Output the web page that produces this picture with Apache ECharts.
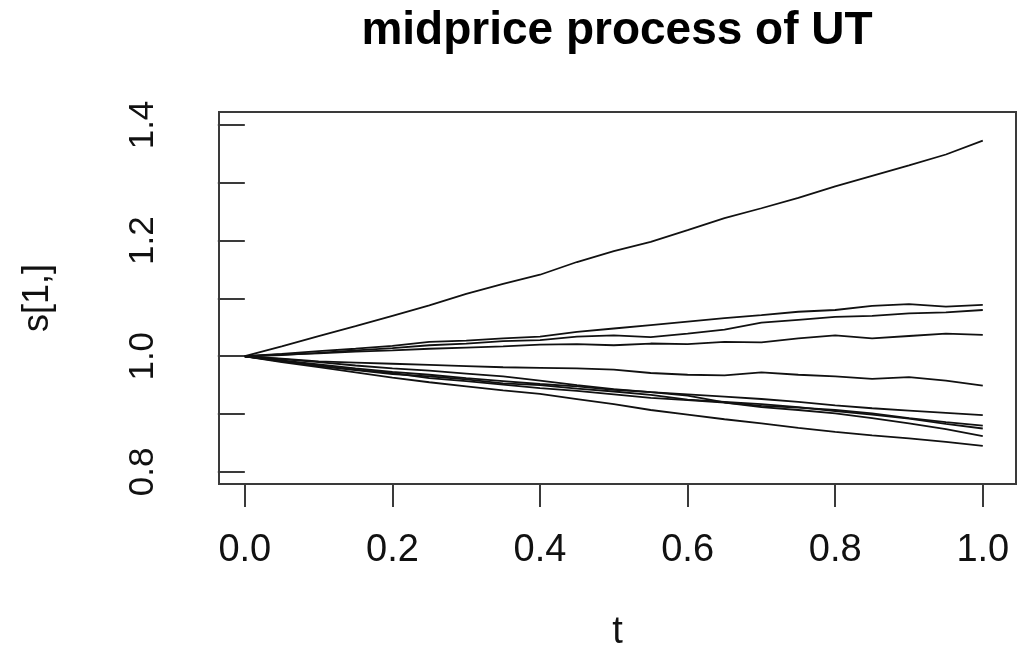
<!DOCTYPE html>
<html>
<head>
<meta charset="utf-8">
<script src="https://cdn.jsdelivr.net/npm/echarts@6/dist/echarts.min.js"></script>
<style>
  html, body { margin: 0; padding: 0; background: #fff; }
  #midprice { width: 1019px; height: 652px; }
</style>
</head>
<body>
<div id="midprice"></div>
<script>
// time grid
var tGrid = [0, 0.05, 0.1, 0.15, 0.2, 0.25, 0.3, 0.35, 0.4, 0.45, 0.5,
             0.55, 0.6, 0.65, 0.7, 0.75, 0.8, 0.85, 0.9, 0.95, 1.0];

// simulated midprice paths
var path1  = [1.000, 1.017, 1.035, 1.052, 1.070, 1.088, 1.108, 1.125, 1.141, 1.163, 1.182,
              1.198, 1.218, 1.239, 1.256, 1.274, 1.294, 1.312, 1.330, 1.349, 1.373];
var path2  = [1.000, 1.004, 1.009, 1.013, 1.018, 1.025, 1.027, 1.031, 1.034, 1.042, 1.048,
              1.054, 1.060, 1.066, 1.071, 1.077, 1.080, 1.087, 1.090, 1.086, 1.089];
var path3  = [1.000, 1.002, 1.006, 1.010, 1.014, 1.019, 1.022, 1.026, 1.028, 1.034, 1.036,
              1.033, 1.039, 1.046, 1.058, 1.063, 1.068, 1.070, 1.074, 1.076, 1.080];
var path4  = [1.000, 1.003, 1.005, 1.008, 1.010, 1.013, 1.015, 1.017, 1.020, 1.021, 1.019,
              1.022, 1.021, 1.025, 1.024, 1.031, 1.036, 1.031, 1.035, 1.039, 1.037];
var path5  = [1.000, 0.996, 0.991, 0.989, 0.987, 0.985, 0.983, 0.981, 0.980, 0.979, 0.977,
              0.971, 0.968, 0.967, 0.972, 0.968, 0.965, 0.961, 0.964, 0.958, 0.949];
var path6  = [1.000, 0.995, 0.990, 0.984, 0.979, 0.975, 0.970, 0.965, 0.958, 0.950, 0.943,
              0.938, 0.934, 0.930, 0.926, 0.921, 0.915, 0.910, 0.906, 0.902, 0.898];
var path7  = [1.000, 0.993, 0.986, 0.979, 0.973, 0.968, 0.962, 0.957, 0.952, 0.948, 0.942,
              0.938, 0.932, 0.920, 0.914, 0.911, 0.907, 0.901, 0.893, 0.886, 0.880];
var path8  = [1.000, 0.992, 0.983, 0.976, 0.969, 0.965, 0.960, 0.953, 0.950, 0.944, 0.939,
              0.933, 0.925, 0.921, 0.917, 0.912, 0.905, 0.899, 0.892, 0.883, 0.875];
var path9  = [1.000, 0.991, 0.984, 0.977, 0.971, 0.962, 0.957, 0.951, 0.945, 0.940, 0.934,
              0.928, 0.924, 0.920, 0.912, 0.907, 0.901, 0.893, 0.884, 0.874, 0.862];
var path10 = [1.000, 0.990, 0.981, 0.972, 0.963, 0.955, 0.948, 0.941, 0.935, 0.926, 0.917,
              0.907, 0.899, 0.891, 0.884, 0.876, 0.869, 0.863, 0.858, 0.852, 0.845];

var paths = [path1, path2, path3, path4, path5, path6, path7, path8, path9, path10];

var xTicks = [0, 0.2, 0.4, 0.6, 0.8, 1.0];
var yTicks = [0.8, 0.9, 1.0, 1.1, 1.2, 1.3, 1.4];
var yLabels = [0.8, 1.0, 1.2, 1.4];

var fontFam = "'Liberation Sans', Arial, Helvetica, sans-serif";

var myChart = echarts.init(document.getElementById('midprice'));

var option = {
  animation: false,
  backgroundColor: '#fff',
  grid: {
    left: 219, top: 112, width: 797, height: 372,
    outerBoundsMode: 'none',
    show: true, borderColor: '#3a3a3a', borderWidth: 2
  },
  graphic: [{
    type: 'text',
    x: 617, y: 31,
    style: {
      text: 'midprice process of UT',
      font: 'bold 46px ' + fontFam,
      fill: '#000',
      textAlign: 'center',
      textVerticalAlign: 'middle'
    }
  }],
  xAxis: {
    type: 'value',
    min: -0.035, max: 1.045,
    splitLine: { show: false },
    axisLine: { show: false },
    axisTick: { customValues: xTicks, length: 23, lineStyle: { color: '#3a3a3a', width: 2 } },
    axisLabel: {
      customValues: xTicks,
      formatter: function (v) { return v.toFixed(1); },
      fontSize: 38, fontFamily: fontFam, color: '#111', margin: 48
    },
    name: 't',
    nameLocation: 'middle',
    nameGap: 130,
    nameTextStyle: { fontSize: 38, fontFamily: fontFam, color: '#111' }
  },
  yAxis: {
    type: 'value',
    min: 0.779, max: 1.4225,
    splitLine: { show: false },
    axisLine: { show: false },
    axisTick: { customValues: yTicks, length: 27, lineStyle: { color: '#3a3a3a', width: 2 } },
    axisLabel: {
      customValues: yLabels,
      rotate: 90,
      formatter: function (v) { return v.toFixed(1); },
      fontSize: 35, fontFamily: fontFam, color: '#111', margin: 58
    },
    name: 's[1,]',
    nameLocation: 'middle',
    nameGap: 163,
    nameTextStyle: { fontSize: 36, fontFamily: fontFam, color: '#111' }
  },
  series: paths.map(function (p) {
    return {
      type: 'line',
      showSymbol: false,
      data: tGrid.map(function (t, i) { return [t, p[i]]; }),
      lineStyle: { color: '#111', width: 1.8 }
    };
  })
};

myChart.setOption(option);
</script>
</body>
</html>
